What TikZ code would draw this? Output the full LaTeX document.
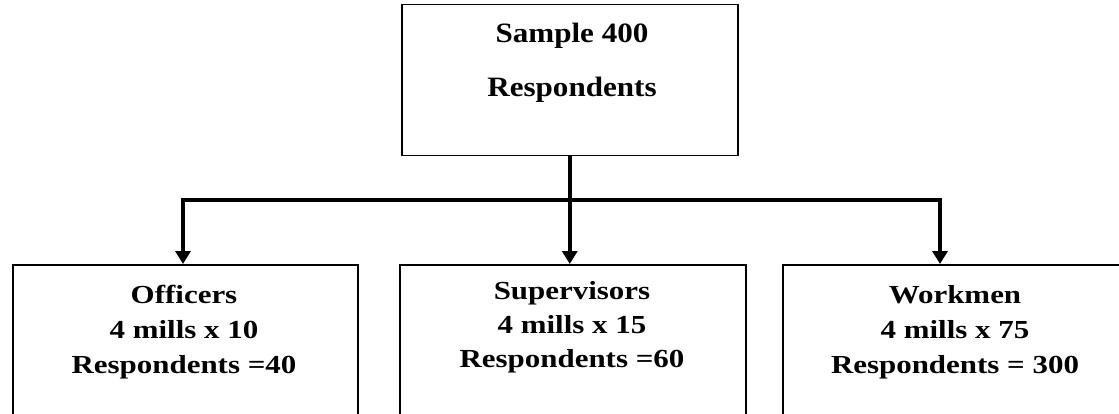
\documentclass[tikz,border=0pt]{standalone}
\usepackage{fontspec}
\usepackage{graphicx}
\setmainfont{Liberation Serif}
\usetikzlibrary{arrows.meta}
\newcommand\toptext[1]{\scalebox{1.11}[1]{\fontsize{28}{30}\selectfont\bfseries #1}}
\newcommand\bottext[1]{\scalebox{1.19}[1]{\fontsize{26}{30}\selectfont\bfseries #1}}
\begin{document}
\begin{tikzpicture}[x=1pt,y=-1pt,
  box/.style={draw, line width=1.5pt, inner sep=0pt, anchor=north west},
  txt/.style={inner sep=0pt, anchor=base},
  conn/.style={line width=3.8pt},
  arrow/.style={conn, -{Triangle[width=15pt,length=13pt]}}]
\clip (0,0) rectangle (1119,414);
\fill[white] (0,0) rectangle (1119,414);
% boxes
\node[box, minimum width=336pt, minimum height=151pt] (top) at (401,4) {};
\node[box, minimum width=345pt, minimum height=180pt] (b1) at (12,264) {};
\node[box, minimum width=346pt, minimum height=180pt] (b2) at (399,264) {};
\node[box, minimum width=346pt, minimum height=180pt] (b3) at (782,264) {};
% texts
\node[txt] (t1) at (572,43) {\toptext{Sample 400}};
\node[txt] (t2) at (572,97) {\toptext{Respondents}};
\node[txt] (l1) at (184,303) {\bottext{Officers}};
\node[txt] (l2) at (184,338) {\bottext{4 mills x 10}};
\node[txt] (l3) at (184,373) {\bottext{Respondents =40}};
\node[txt] (m1) at (572,299) {\bottext{Supervisors}};
\node[txt] (m2) at (572,333) {\bottext{4 mills x 15}};
\node[txt] (m3) at (572,367) {\bottext{Respondents =60}};
\node[txt] (r1) at (955,303) {\bottext{Workmen}};
\node[txt] (r2) at (955,338) {\bottext{4 mills x 75}};
\node[txt] (r3) at (955,373) {\bottext{Respondents = 300}};
% connectors
\coordinate (c1) at (183,200);
\coordinate (c3) at (940,200);
\coordinate (hub) at (top.south |- c1);
\draw[conn] (top.south) -- (hub);
\draw[arrow] (hub) -| (c1 |- b1.north);
\draw[arrow] (hub) -- (hub |- b2.north);
\draw[arrow] (hub) -| (c3 |- b3.north);
\end{tikzpicture}
\end{document}
